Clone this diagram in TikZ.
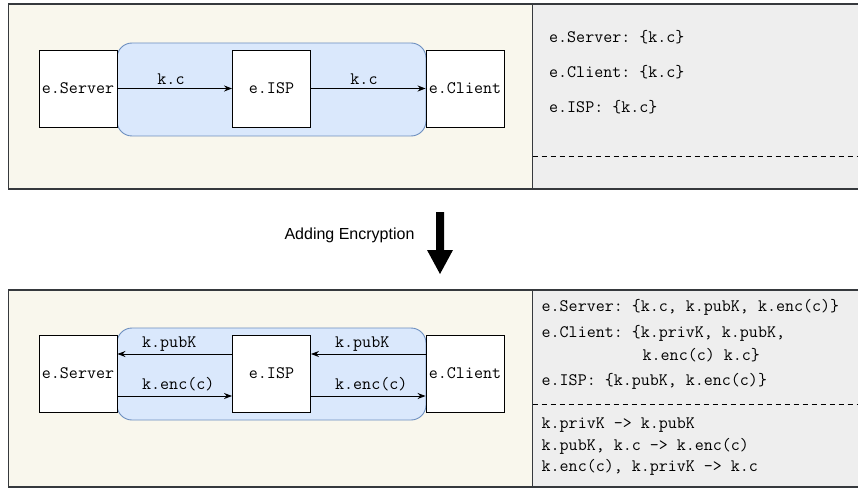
\documentclass[tikz,border=0pt]{standalone}
\usepackage{fontspec}
\newfontfamily\arialf{Liberation Sans}
\usetikzlibrary{arrows.meta}
\frenchspacing
\newcommand\mymono{\fontsize{17.5}{21}\selectfont\ttfamily\frenchspacing}
\definecolor{pstroke}{HTML}{36393D}
\definecolor{pfill}{HTML}{F9F7ED}
\definecolor{gfill}{HTML}{EEEEEE}
\definecolor{bstroke}{HTML}{6C8EBF}
\definecolor{bfill}{HTML}{DAE8FC}
\tikzset{
  panelL/.style={draw=pstroke, fill=pfill, line width=1.1pt},
  panelR/.style={draw=pstroke, fill=gfill, line width=1.1pt},
  chan/.style={draw=bstroke, fill=bfill, line width=0.9pt, rounded corners=15pt},
  entity/.style={draw=black, fill=white, line width=0.9pt, minimum width=78pt, minimum height=77pt, inner sep=0pt, font=\mymono},
  msg/.style={-{Stealth[length=8pt,width=6pt]}, line width=0.9pt, draw=black},
  lbl/.style={font=\mymono, inner sep=0pt, anchor=west},
  know/.style={font=\mymono, inner sep=0pt, anchor=west},
  sep/.style={dashed, dash pattern=on 5pt off 4pt, line width=0.9pt, draw=black},
  caption/.style={font=\arialf\fontsize{16}{18}\selectfont, inner sep=0pt}
}
\begin{document}
\begin{tikzpicture}[x=1pt,y=-1pt]
\useasboundingbox (0,0) rectangle (858,489);
% ---------- top panel ----------
\draw[panelL] (8.5,4) rectangle (532.5,189);
\draw[panelR] (532.5,4) rectangle (862,189);
\draw[sep] (532.5,156) -- (862,156);
\draw[chan] (117,43) rectangle (426,136);
\node[entity] (srvA) at (78,88.5) {e.Server};
\node[entity] (ispA) at (271.5,88.5) {e.ISP};
\node[entity] (cliA) at (465,88.5) {e.Client};
\draw[msg] (srvA.east) -- (ispA.west);
\draw[msg] (ispA.east) -- (cliA.west);
\node[font=\mymono, inner sep=0pt] (lA1) at (171,79) {k.c};
\node[font=\mymono, inner sep=0pt] (lA2) at (364,79) {k.c};
\node[know] (kA1) at (549,37) {e.Server: \{k.c\}};
\node[know] (kA2) at (549,72) {e.Client: \{k.c\}};
\node[know] (kA3) at (549,107) {e.ISP: \{k.c\}};
% ---------- transition ----------
\node[caption] (cap) at (349.5,235) {Adding Encryption};
\fill[black] (436,212) -- (444,212) -- (444,250) -- (453,250) -- (440,274) -- (427,250) -- (436,250) -- cycle;
% ---------- bottom panel ----------
\draw[panelL] (8.5,290) rectangle (532.5,487);
\draw[panelR] (532.5,290) rectangle (862,487);
\draw[sep] (532.5,404) -- (862,404);
\draw[chan] (117,328) rectangle (426,420);
\node[entity] (srvB) at (78,373.5) {e.Server};
\node[entity] (ispB) at (271.5,373.5) {e.ISP};
\node[entity] (cliB) at (465,373.5) {e.Client};
\draw[msg] ([yshift=19.5pt]ispB.west) -- ([yshift=19.5pt]srvB.east);
\draw[msg] ([yshift=19.5pt]cliB.west) -- ([yshift=19.5pt]ispB.east);
\draw[msg] ([yshift=-22.5pt]srvB.east) -- ([yshift=-22.5pt]ispB.west);
\draw[msg] ([yshift=-22.5pt]ispB.east) -- ([yshift=-22.5pt]cliB.west);
\node[lbl] (lB1) at (142,344) {k.pubK};
\node[lbl] (lB2) at (142,384) {k.enc(c)};
\node[lbl] (lB3) at (335,344) {k.pubK};
\node[lbl] (lB4) at (335,384) {k.enc(c)};
\node[know] (kB1) at (541.5,307) {e.Server: \{k.c, k.pubK, k.enc(c)\}};
\node[know] (kB2) at (541.5,333) {e.Client: \{k.privK, k.pubK,};
\node[know] (kB3) at (642.5,355.5) {k.enc(c) k.c\}};
\node[know] (kB4) at (541.5,381) {e.ISP: \{k.pubK, k.enc(c)\}};
\node[know] (kB5) at (541.5,425) {k.privK -> k.pubK};
\node[know] (kB6) at (541.5,446.5) {k.pubK, k.c -> k.enc(c)};
\node[know] (kB7) at (541.5,467.5) {k.enc(c), k.privK -> k.c};
\end{tikzpicture}
\end{document}
